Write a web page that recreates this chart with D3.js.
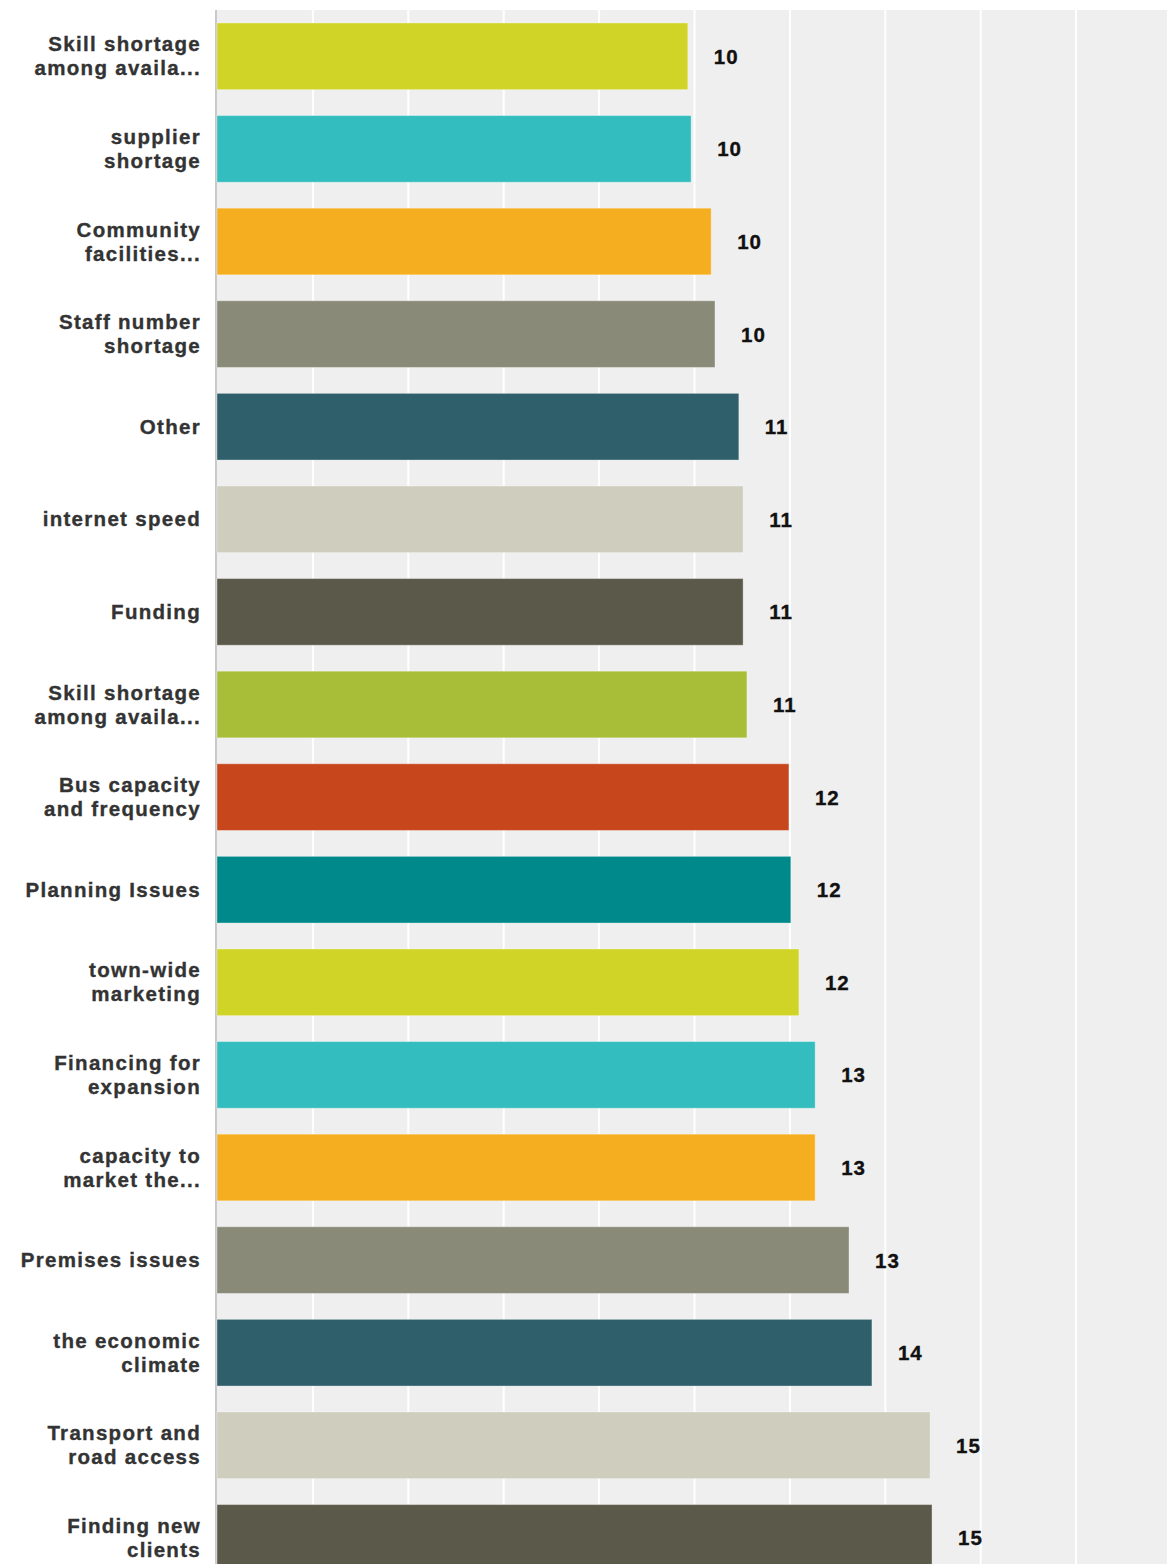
<!DOCTYPE html>
<html>
<head>
<meta charset="utf-8">
<script src="https://cdn.jsdelivr.net/npm/d3@7"></script>
<style>
  html, body { margin: 0; padding: 0; background: #ffffff; }
  svg { display: block; }
</style>
</head>
<body>
<svg id="chart" width="1167" height="1564"></svg>
<script>
// ---- data ----
const categories = [
  "Skill shortage\namong availa...",
  "supplier\nshortage",
  "Community\nfacilities...",
  "Staff number\nshortage",
  "Other",
  "internet speed",
  "Funding",
  "Skill shortage\namong availa...",
  "Bus capacity\nand frequency",
  "Planning Issues",
  "town-wide\nmarketing",
  "Financing for\nexpansion",
  "capacity to\nmarket the...",
  "Premises issues",
  "the economic\nclimate",
  "Transport and\nroad access",
  "Finding new\nclients"
];
const values = [9.87, 9.94, 10.36, 10.44, 10.94, 11.03, 11.03, 11.11, 11.99, 12.03, 12.20, 12.54, 12.54, 13.25, 13.73, 14.95, 14.99];
const colors = ["#d0d426", "#33bdbf", "#f5ae1f", "#8a8a78", "#2e5f6b", "#cfcdbd", "#5b5a4a", "#a8be38", "#c7461b", "#00898a"];
const xTicks = [0, 2, 4, 6, 8, 10, 12, 14, 16, 18, 20];

(function () {
  // ---- layout ----
  const plotLeft = 216, plotTop = 10;
  const rowStep = 92.6;
  const plotBottom = plotTop + categories.length * rowStep;
  const plotRight = plotLeft + 955;

  const svg = d3.select("#chart");
  const ids = categories.map((c, i) => i);

  const x = d3.scaleLinear().domain([0, 20]).range([plotLeft + 1, plotRight]);
  const y = d3.scaleBand().domain(ids).range([plotTop, plotBottom]).paddingInner(0.28).paddingOuter(0.14);

  // plot background
  svg.append("rect")
    .attr("x", plotLeft).attr("y", plotTop)
    .attr("width", plotRight - plotLeft).attr("height", plotBottom - plotTop)
    .attr("fill", "#efefef");

  // gridlines
  const grid = svg.append("g")
    .attr("transform", `translate(0,${plotTop})`)
    .call(d3.axisBottom(x).tickValues(xTicks.filter(d => d > 0)).tickSize(plotBottom - plotTop).tickFormat(""));
  grid.select(".domain").remove();
  grid.selectAll(".tick line").attr("stroke", "#ffffff").attr("stroke-width", 2);

  // left axis line
  svg.append("line")
    .attr("x1", plotLeft).attr("x2", plotLeft)
    .attr("y1", plotTop).attr("y2", plotBottom)
    .attr("stroke", "#c9c9c9").attr("stroke-width", 2);

  // bars
  svg.append("g").selectAll("rect")
    .data(ids)
    .join("rect")
    .attr("x", x(0))
    .attr("y", i => y(i))
    .attr("width", i => x(values[i]) - x(0))
    .attr("height", y.bandwidth())
    .attr("fill", i => colors[i % colors.length])
    .attr("stroke", "rgba(255,255,255,0.35)")
    .attr("stroke-width", 1);

  // value labels
  const fmt = d3.format(".0f");
  svg.append("g").selectAll("text")
    .data(ids)
    .join("text")
    .attr("x", i => x(values[i]) + 26)
    .attr("y", i => y(i) + y.bandwidth() / 2 + 7.5)
    .attr("font-family", "'Liberation Sans', Arial, sans-serif")
    .attr("font-weight", "bold")
    .attr("font-size", 20.5)
    .attr("letter-spacing", "1px")
    .attr("fill", "#111111")
    .attr("stroke", "#111111")
    .attr("stroke-width", 0.35)
    .text(i => fmt(values[i]));

  // category labels
  const lab = svg.append("g").selectAll("text")
    .data(ids)
    .join("text")
    .attr("text-anchor", "end")
    .attr("font-family", "'Liberation Sans', Arial, sans-serif")
    .attr("font-weight", "bold")
    .attr("font-size", 20.5)
    .attr("letter-spacing", "1.3px")
    .attr("fill", "#333333")
    .attr("stroke", "#333333")
    .attr("stroke-width", 0.35);

  lab.each(function (i) {
    const lines = categories[i].split("\n");
    const cy = y(i) + y.bandwidth() / 2;
    const lh = 24;
    const base = cy + 7 - (lines.length - 1) * lh / 2;
    const t = d3.select(this);
    lines.forEach((ln, k) => {
      t.append("tspan")
        .attr("x", 201)
        .attr("y", base + k * lh)
        .text(ln);
    });
  });
})();
</script>
</body>
</html>
